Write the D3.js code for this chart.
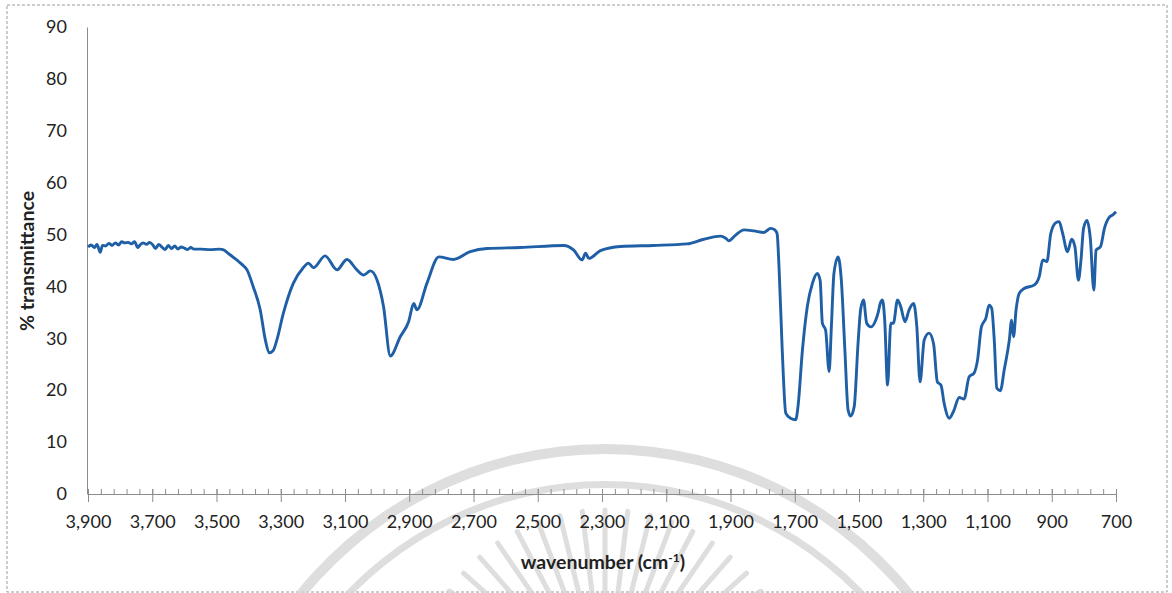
<!DOCTYPE html>
<html>
<head>
<meta charset="utf-8">
<script src="https://cdn.jsdelivr.net/npm/d3@7"></script>
<style>
    body { margin: 0; background: #fff; }
    svg text { font-family: Lato, "Open Sans", sans-serif; fill: #222; }
    .axis path, .axis line { stroke: #8c8c8c; }
</style>
</head>
<body>
<svg id="spectrum" width="1172" height="593"></svg>
<script>
// wavenumber (cm-1) and % transmittance
const wavenumbers = [
    3900, 3890, 3880, 3872, 3862, 3855, 3845, 3835, 3825, 3815, 3805, 3795, 3785, 3775, 3765, 3755,
    3745, 3738, 3728, 3718, 3708, 3698, 3690, 3680, 3670, 3660, 3650, 3640, 3630, 3620, 3610, 3600,
    3590, 3580, 3570, 3550, 3520, 3490, 3480, 3460, 3437, 3420, 3405, 3386, 3364, 3348, 3336, 3324,
    3312, 3292, 3261, 3230, 3214, 3198, 3162, 3125, 3094, 3063, 3042, 3021, 3000, 2980, 2959, 2928,
    2902, 2886, 2876, 2845, 2808, 2763, 2710, 2658, 2554, 2419, 2388, 2362, 2351, 2341, 2305, 2242,
    2140, 2035, 1983, 1931, 1915, 1905, 1884, 1858, 1827, 1796, 1775, 1762, 1755, 1749, 1739, 1728,
    1713, 1697, 1690, 1676, 1661, 1645, 1630, 1621, 1614, 1604, 1593, 1586, 1578, 1565, 1555, 1544,
    1534, 1526, 1515, 1503, 1495, 1486, 1476, 1463, 1448, 1441, 1434, 1427, 1420, 1411, 1401, 1393,
    1380, 1370, 1357, 1344, 1330, 1320, 1310, 1297, 1282, 1268, 1256, 1245, 1235, 1219, 1206, 1188,
    1173, 1157, 1142, 1131, 1119, 1105, 1095, 1087, 1079, 1071, 1060, 1048, 1032, 1025, 1019, 1011,
    1001, 986, 954, 939, 928, 915, 903, 887, 877, 866, 851, 838, 828, 817, 809, 801,
    790, 780, 769, 762, 748, 736, 720, 710, 700
];
const transmittance = [
    47.6, 48.0, 47.5, 48.1, 46.6, 47.9, 47.8, 48.3, 47.9, 48.4, 48.0, 48.6, 48.4, 48.5, 48.2, 48.6,
    47.5, 48.0, 48.4, 48.1, 48.5, 48.0, 47.3, 48.1, 47.6, 47.1, 47.9, 47.3, 47.8, 47.2, 47.6, 47.4,
    47.1, 47.5, 47.2, 47.2, 47.1, 47.2, 47.1, 46.2, 45.1, 44.2, 43.2, 40.0, 35.5, 29.7, 27.2, 27.6,
    29.7, 34.8, 40.6, 43.6, 44.5, 43.6, 45.9, 43.2, 45.2, 43.2, 42.2, 43.0, 41.2, 36.1, 26.6, 30.3,
    33.2, 36.7, 35.5, 40.6, 45.7, 45.2, 46.7, 47.3, 47.5, 47.9, 47.0, 45.1, 46.4, 45.4, 46.9, 47.7,
    47.9, 48.2, 49.1, 49.7, 49.3, 48.8, 49.9, 50.9, 50.7, 50.4, 51.2, 50.9, 50.2, 43.8, 27.8, 15.6,
    14.6, 14.3, 16.8, 27.8, 36.1, 40.6, 42.5, 41.2, 32.9, 31.6, 23.6, 32.2, 42.5, 45.7, 41.2, 27.8,
    16.2, 15.0, 16.8, 29.0, 35.5, 37.4, 32.9, 32.2, 33.5, 34.8, 36.7, 37.4, 33.5, 21.0, 32.9, 32.9,
    37.4, 36.1, 33.2, 35.5, 36.7, 32.2, 21.6, 29.7, 31.0, 29.0, 21.6, 21.0, 17.5, 14.6, 15.9, 18.6,
    18.3, 22.6, 23.3, 25.8, 32.2, 33.9, 36.4, 35.8, 29.7, 20.4, 19.9, 23.9, 29.7, 33.5, 30.3, 35.5,
    38.7, 39.6, 40.3, 41.9, 45.1, 44.8, 50.2, 52.3, 52.5, 50.2, 46.7, 49.1, 47.7, 41.2, 45.1, 51.2,
    52.7, 49.3, 39.3, 47.0, 47.7, 51.2, 53.4, 53.8, 54.4
];
const xTickValues = [3900, 3700, 3500, 3300, 3100, 2900, 2700, 2500, 2300, 2100, 1900, 1700, 1500, 1300, 1100, 900, 700];
const yTickValues = [0, 10, 20, 30, 40, 50, 60, 70, 80, 90];

var svg = d3.select("#spectrum");

// scanned-page frame
svg.append("rect")
    .attr("x", 7).attr("y", 5)
    .attr("width", 1160).attr("height", 587)
    .attr("fill", "none")
    .attr("stroke", "#9a9a9a")
    .attr("stroke-dasharray", "3,2");

// faint watermark behind the lower axis
var wm = svg.append("g").attr("stroke", "#d6d6d6").attr("fill", "none").attr("opacity", 0.8);
var arcGen = d3.arc();
wm.append("path")
    .attr("transform", "translate(605,840)")
    .attr("d", arcGen({ innerRadius: 386, outerRadius: 396, startAngle: -0.95, endAngle: 0.95 }))
    .attr("fill", "#d6d6d6").attr("stroke", "none");
wm.append("path")
    .attr("transform", "translate(605,840)")
    .attr("d", arcGen({ innerRadius: 352, outerRadius: 359, startAngle: -0.9, endAngle: 0.9 }))
    .attr("fill", "#d6d6d6").attr("stroke", "none");
d3.range(-1.2, 1.21, 0.12).forEach(function(a) {
    var cx = 605, cy = 700;
    wm.append("line")
        .attr("x1", cx + Math.sin(a) * 100).attr("y1", cy - Math.cos(a) * 100)
        .attr("x2", cx + Math.sin(a) * 190).attr("y2", cy - Math.cos(a) * 190)
        .attr("stroke-width", 5)
        .attr("stroke-linecap", "round");
});

var x = d3.scaleLinear().domain([3900, 700]).range([88, 1116]);
var y = d3.scaleLinear().domain([0, 90]).range([494, 27]);

// minor ticks, pointing up
svg.append("g")
    .attr("class", "axis")
    .attr("transform", "translate(0,494)")
    .call(d3.axisBottom(x).tickValues(d3.range(700, 3901, 40)).tickSize(-5).tickFormat(""))
    .call(g => g.select(".domain").remove());

// major ticks + labels
var xAxis = svg.append("g")
    .attr("class", "axis")
    .attr("transform", "translate(0,494)")
    .call(d3.axisBottom(x).tickValues(xTickValues).tickFormat(d3.format(",")).tickSize(8).tickPadding(13).tickSizeOuter(0));
xAxis.selectAll(".tick line").attr("y1", -5);
xAxis.selectAll("text").style("font-size", "18px");

var yAxis = svg.append("g")
    .attr("class", "axis")
    .attr("transform", "translate(87,0)")
    .call(d3.axisLeft(y).tickValues(yTickValues).tickSize(0).tickPadding(20));
yAxis.selectAll("text").style("font-size", "18px");

// spectrum
var line = d3.line()
    .x(function(d, i) { return x(wavenumbers[i]); })
    .y(function(d) { return y(d); })
    .curve(d3.curveMonotoneX);

svg.append("path")
    .datum(transmittance)
    .attr("fill", "none")
    .attr("stroke", "#1f5fa5")
    .attr("stroke-width", 2.9)
    .attr("stroke-linejoin", "round")
    .attr("d", line);

// axis titles
svg.append("text")
    .attr("transform", "translate(34,261) rotate(-90)")
    .attr("text-anchor", "middle")
    .style("font-size", "19.5px")
    .style("font-weight", "bold")
    .text("% transmittance");

var xt = svg.append("text")
    .attr("x", 603).attr("y", 569)
    .attr("text-anchor", "middle")
    .style("font-size", "19.5px")
    .style("font-weight", "bold");
xt.append("tspan").text("wavenumber (cm");
xt.append("tspan").attr("dy", -7).style("font-size", "12px").text("-1");
xt.append("tspan").attr("dy", 7).text(")");
</script>
</body>
</html>
